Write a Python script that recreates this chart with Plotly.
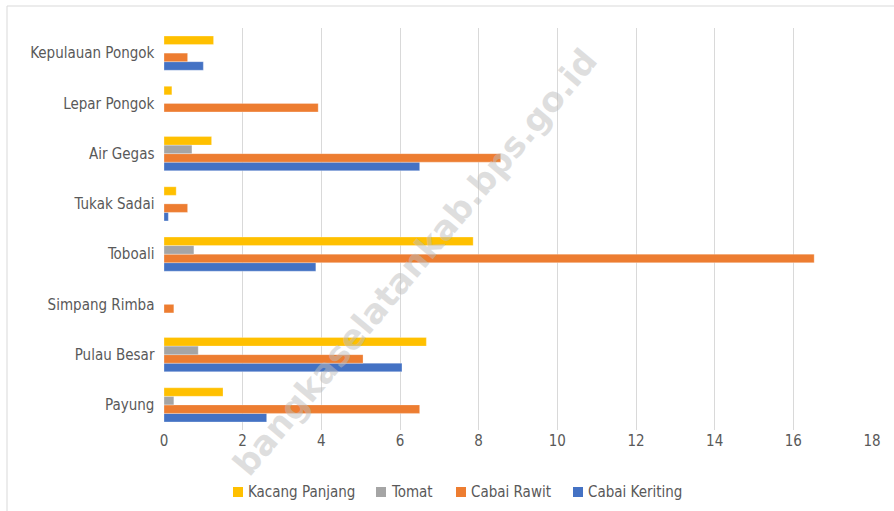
import plotly.graph_objects as go

categories = ["Payung", "Pulau Besar", "Simpang Rimba", "Toboali", "Tukak Sadai",
              "Air Gegas", "Lepar Pongok", "Kepulauan Pongok"]
cabai_keriting = [2.61, 6.05, 0, 3.86, 0.11, 6.50, 0, 1.00]
cabai_rawit = [6.50, 5.06, 0.25, 16.53, 0.60, 8.56, 3.92, 0.60]
tomat = [0.25, 0.87, 0, 0.76, 0, 0.71, 0, 0]
kacang_panjang = [1.50, 6.67, 0, 7.86, 0.31, 1.21, 0.20, 1.26]
x_ticks = [0, 2, 4, 6, 8, 10, 12, 14, 16, 18]

series = [
    ("Cabai Keriting", cabai_keriting, "#4472C4"),
    ("Cabai Rawit", cabai_rawit, "#ED7D31"),
    ("Tomat", tomat, "#A5A5A5"),
    ("Kacang Panjang", kacang_panjang, "#FFC000"),
]

W, H = 894, 511
L, R, T, B = 164, 22, 28, 81
PW, PH = W - L - R, H - T - B

def px(x):
    return (x - L) / PW

def py(y):
    return (H - B - y) / PH

fig = go.Figure()
for name, vals, color in series:
    fig.add_trace(go.Bar(
        y=categories, x=vals, name=name, orientation="h",
        marker=dict(color=color, line=dict(color="rgba(255,255,255,0.35)", width=0.8)),
    ))

font_family = "Liberation Sans Narrow, DejaVu Sans Condensed, Open Sans, sans-serif"

fig.update_layout(
    width=W, height=H,
    barmode="group", bargap=0.32, bargroupgap=0,
    plot_bgcolor="white", paper_bgcolor="white",
    margin=dict(l=L, r=R, t=T, b=B),
    font=dict(family=font_family, size=15, color="#595959"),
    showlegend=False,
    xaxis=dict(range=[0, 18], tickvals=x_ticks, showgrid=True, gridcolor="#D9D9D9",
               gridwidth=1, zeroline=False, showline=False, ticks="",
               tickfont=dict(size=15, color="#595959")),
    yaxis=dict(range=[-0.5, 7.5], showgrid=False, showline=False, ticks="",
               ticksuffix="  ", tickfont=dict(size=15, color="#595959")),
)

# outer chart frame
fig.add_shape(type="rect", xref="paper", yref="paper",
              x0=px(7), x1=px(W + 5), y0=py(H + 5), y1=py(6),
              line=dict(color="#D9D9D9", width=1), layer="below")

# custom legend (small squares like the original)
legend_items = [("Kacang Panjang", "#FFC000", 233), ("Tomat", "#A5A5A5", 376),
                ("Cabai Rawit", "#ED7D31", 456), ("Cabai Keriting", "#4472C4", 573)]
ly = 492
for name, color, x0 in legend_items:
    fig.add_shape(type="rect", xref="paper", yref="paper",
                  x0=px(x0), x1=px(x0 + 10), y0=py(ly + 5), y1=py(ly - 5),
                  fillcolor=color, line=dict(width=0))
    fig.add_annotation(text=name, xref="paper", yref="paper", x=px(x0 + 13), y=py(ly),
                       xanchor="left", yanchor="middle", showarrow=False,
                       font=dict(size=15, color="#595959", family=font_family))

fig.add_annotation(text="<b>bangkaselatankab.bps.go.id</b>", xref="paper", yref="paper",
                   x=px(415), y=py(262), showarrow=False, textangle=-50,
                   font=dict(size=34, color="rgba(190,190,190,0.5)",
                             family="DejaVu Sans, sans-serif"))

fig.write_html("out.html", post_script="document.body.style.margin='0';",
               config={"displayModeBar": False})
